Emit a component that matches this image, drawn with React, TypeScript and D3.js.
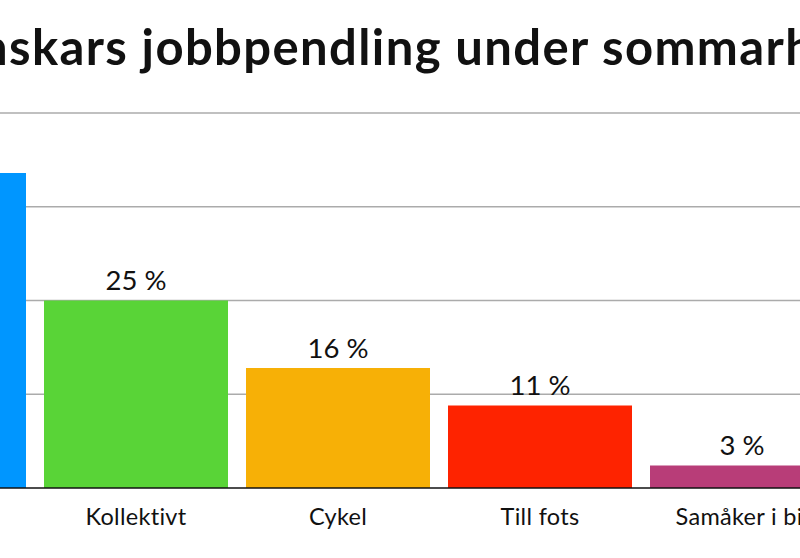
import React, { useEffect, useRef } from 'react';
import * as d3 from 'd3';

const title = 'Svenskars jobbpendling under sommarhalvåret';
const categories = ['Bil', 'Kollektivt', 'Cykel', 'Till fots', 'Samåker i bil'];
const values = [42, 25, 16, 11, 3];
const colors = ['#0096ff', '#59d437', '#f7b006', '#fe2300', '#b83d78'];
const yTicks = [0, 12.5, 25, 37.5, 50];

const W = 800;
const H = 558;

const App = () => {
  const ref = useRef<SVGSVGElement>(null);

  useEffect(() => {
    const svg = d3.select(ref.current);
    svg.selectAll('*').remove();

    const x = d3.scaleBand<string>()
      .domain(categories)
      .range([-167, -167 + categories.length * 202])
      .paddingInner(18 / 202)
      .paddingOuter(9 / 202);

    const y = d3.scaleLinear().domain([0, 50]).range([488, 113]);

    // gridlines
    svg.append('g')
      .selectAll('line')
      .data(yTicks.slice(1))
      .enter().append('line')
      .attr('x1', 0)
      .attr('x2', W)
      .attr('y1', d => y(d))
      .attr('y2', d => y(d))
      .attr('stroke', '#ababab')
      .attr('stroke-width', 1.5);

    svg.append('g')
      .selectAll('rect')
      .data(values)
      .enter().append('rect')
      .attr('x', (d, i) => x(categories[i]))
      .attr('y', d => y(d))
      .attr('width', x.bandwidth())
      .attr('height', d => y(0) - y(d))
      .attr('fill', (d, i) => colors[i]);

    // baseline
    svg.append('line')
      .attr('x1', 0)
      .attr('x2', W)
      .attr('y1', y(0))
      .attr('y2', y(0))
      .attr('stroke', '#111')
      .attr('stroke-width', 1.5);

    svg.append('g')
      .selectAll('text')
      .data(values)
      .enter().append('text')
      .attr('x', (d, i) => x(categories[i]) + x.bandwidth() / 2)
      .attr('y', d => y(d) - 10.5)
      .attr('text-anchor', 'middle')
      .style('font-family', 'Lato')
      .style('font-size', '27.5px')
      .style('fill', '#111')
      .text(d => `${d} %`);

    svg.append('g')
      .selectAll('text')
      .data(categories)
      .enter().append('text')
      .attr('x', d => x(d) + x.bandwidth() / 2)
      .attr('y', 525)
      .attr('text-anchor', 'middle')
      .style('font-family', 'Lato')
      .style('font-size', '23.5px')
      .style('letter-spacing', '0.3px')
      .style('fill', '#111')
      .text(d => d);

    const t = svg.append('text')
      .attr('y', 65)
      .style('font-family', 'Lato')
      .style('font-weight', 'bold')
      .style('font-size', '49px')
      .style('fill', '#111')
      .text(title);
    const node = t.node() as SVGTextElement;
    // fit spacing: "s" of "nskars" at ~9px, "sommar" at ~602px
    const a = node.getSubStringLength(0, 4);
    const b = node.getSubStringLength(0, 29);
    const ls = (593 - (b - a)) / 25;
    t.style('letter-spacing', `${ls}px`);
    t.attr('x', 9 - (a + 4 * ls));
  }, []);

  return (
    <svg ref={ref} width={W} height={H}
      style={{ position: 'absolute', left: 0, top: 0, background: '#fff' }} />
  );
};

export default App;
